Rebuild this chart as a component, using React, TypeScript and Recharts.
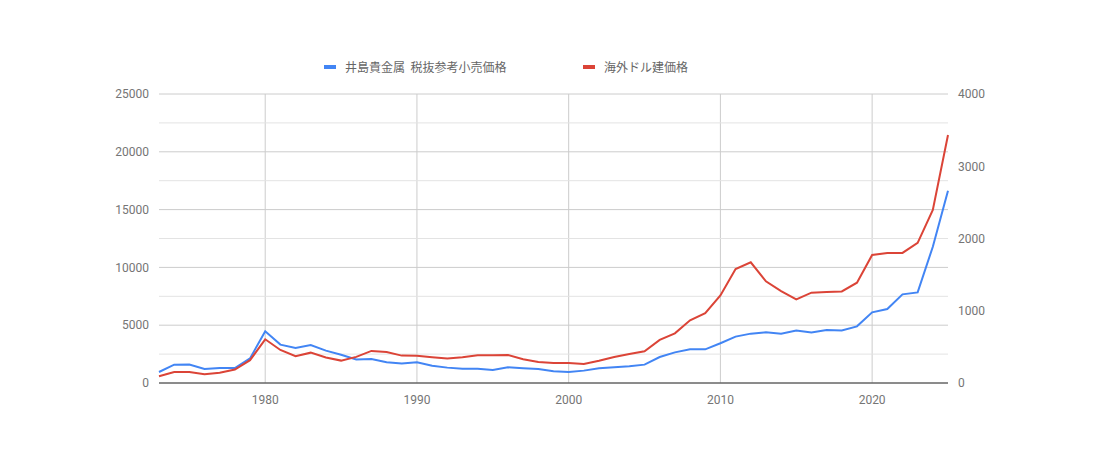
import React from 'react';
import {
  CartesianGrid,
  Line,
  LineChart,
  ReferenceLine,
  XAxis,
  YAxis,
} from 'recharts';

// 1973 - 2025
const years = [
  1973, 1974, 1975, 1976, 1977, 1978, 1979, 1980, 1981, 1982, 1983, 1984,
  1985, 1986, 1987, 1988, 1989, 1990, 1991, 1992, 1993, 1994, 1995, 1996,
  1997, 1998, 1999, 2000, 2001, 2002, 2003, 2004, 2005, 2006, 2007, 2008,
  2009, 2010, 2011, 2012, 2013, 2014, 2015, 2016, 2017, 2018, 2019, 2020,
  2021, 2022, 2023, 2024, 2025,
];

// 円/g
const yenPrice = [
  950, 1585, 1590, 1210, 1300, 1300, 2130, 4470, 3320, 3030, 3290, 2800,
  2450, 2040, 2080, 1790, 1680, 1790, 1500, 1330, 1240, 1240, 1130, 1355,
  1270, 1210, 1010, 950, 1070, 1270, 1355, 1440, 1590, 2250, 2650, 2910,
  2910, 3440, 4010, 4270, 4380, 4270, 4550, 4380, 4580, 4550, 4900, 6110,
  6400, 7670, 7840, 11790, 16640,
];

// USD/oz
const usdPrice = [
  93, 152, 152, 121, 143, 186, 316, 605, 457, 370, 420, 352,
  310, 362, 444, 430, 379, 378, 356, 338, 356, 384, 384, 388,
  328, 291, 278, 278, 264, 309, 361, 401, 439, 596, 688, 868,
  966, 1212, 1578, 1670, 1407, 1273, 1158, 1250, 1259, 1268, 1388, 1771,
  1799, 1800, 1940, 2394, 3432,
];

const leftTicks = [0, 5000, 10000, 15000, 20000, 25000];
const leftMinor = [2500, 7500, 12500, 17500, 22500];
const rightTicks = [0, 1000, 2000, 3000, 4000];
const yearTicks = [1980, 1990, 2000, 2010, 2020];

const seriesNames = ['井島貴金属  税抜参考小売価格', '海外ドル建価格'];
const colors = ['#4285f4', '#db4437'];

const chartData = years.map((year, i) => ({
  year,
  yen: yenPrice[i],
  usd: usdPrice[i],
}));

const tickStyle = { fill: '#757575', fontSize: 12, fontFamily: 'Roboto' };

function LegendItem({ color, label, left }: { color: string; label: string; left: number }) {
  return (
    <div style={{ position: 'absolute', left, top: 58, display: 'flex', alignItems: 'center' }}>
      <div style={{ width: 12, height: 4, background: color, marginRight: 9 }} />
      <span
        style={{
          fontSize: 12,
          color: '#666',
          fontFamily: '"Noto Sans CJK JP", Roboto, sans-serif',
          whiteSpace: 'pre',
        }}
      >
        {label}
      </span>
    </div>
  );
}

export default function App() {
  return (
    <div style={{ position: 'relative', width: 1100, height: 462, background: '#fff' }}>
      <style>{'body { margin: 0; }'}</style>
      <LegendItem color={colors[0]} label={seriesNames[0]} left={324} />
      <LegendItem color={colors[1]} label={seriesNames[1]} left={583} />
      <LineChart
        width={1100}
        height={462}
        data={chartData}
        margin={{ top: 94, right: 92, left: 99, bottom: 49 }}
      >
        <CartesianGrid
          yAxisId="left"
          stroke="#cccccc"
          verticalValues={yearTicks}
          horizontalValues={leftTicks}
        />
        {leftMinor.map((v) => (
          <ReferenceLine key={v} yAxisId="left" y={v} stroke="#e3e3e3" strokeWidth={1} />
        ))}
        <XAxis
          dataKey="year"
          type="number"
          domain={[1973, 2025]}
          ticks={yearTicks}
          tickLine={false}
          axisLine={{ stroke: '#333333' }}
          tick={tickStyle}
          tickMargin={6}
          height={30}
        />
        <YAxis
          yAxisId="left"
          orientation="left"
          domain={[0, 25000]}
          ticks={leftTicks}
          tickLine={false}
          axisLine={false}
          tick={tickStyle}
          tickMargin={4}
          width={60}
        />
        <YAxis
          yAxisId="right"
          orientation="right"
          domain={[0, 4000]}
          ticks={rightTicks}
          tickLine={false}
          axisLine={false}
          tick={{ ...tickStyle, textAnchor: 'start' }}
          tickMargin={4}
          width={60}
        />
        <Line
          yAxisId="left"
          type="linear"
          dataKey="yen"
          name={seriesNames[0]}
          stroke={colors[0]}
          strokeWidth={2}
          dot={false}
          isAnimationActive={false}
        />
        <Line
          yAxisId="right"
          type="linear"
          dataKey="usd"
          name={seriesNames[1]}
          stroke={colors[1]}
          strokeWidth={2}
          dot={false}
          isAnimationActive={false}
        />
      </LineChart>
    </div>
  );
}
